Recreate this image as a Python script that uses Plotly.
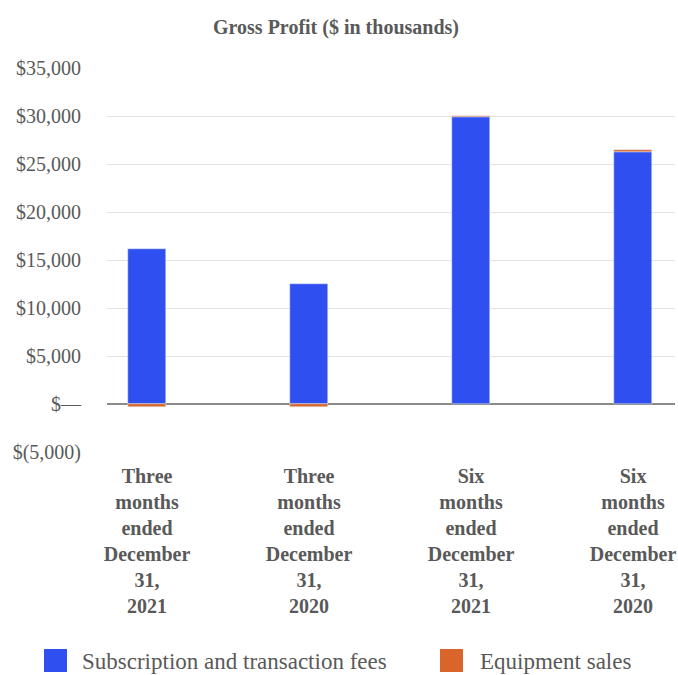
import plotly.graph_objects as go

categories = ["Three<br>months<br>ended<br>December<br>31,<br>2021",
              "Three<br>months<br>ended<br>December<br>31,<br>2020",
              "Six<br>months<br>ended<br>December<br>31,<br>2021",
              "Six<br>months<br>ended<br>December<br>31,<br>2020"]
series_names = ["Subscription and transaction fees", "Equipment sales"]
subscription = [16150, 12550, 29850, 26250]
equipment = [-300, -300, 200, 200]
tick_vals = [-5000, 0, 5000, 10000, 15000, 20000, 25000, 30000, 35000]
tick_text = ["$(5,000)", "$—", "$5,000", "$10,000", "$15,000", "$20,000", "$25,000", "$30,000", "$35,000"]

W, H = 678, 675
L, R, T, B = 107, 675, 68, 452  # plot area in pixels
colors = ["#2F4FF0", "#D9652B"]
txt = "#595959"

def px(X):
    return (X - L) / (R - L)

def py(Y):
    return (B - Y) / (B - T)

x = list(range(len(categories)))
fig = go.Figure()
fig.add_trace(go.Bar(x=x, y=subscription, name=series_names[0],
                     marker_color=colors[0], width=0.24, showlegend=False))
fig.add_trace(go.Bar(x=x, y=equipment, name=series_names[1],
                     marker_color=colors[1], width=0.24, showlegend=False))

# manual legend
shapes = []
annotations = []
for (sx, tx), name, c in zip([(44, 80), (440, 478)], series_names, colors):
    shapes.append(dict(type="rect", xref="paper", yref="paper",
                       x0=px(sx), x1=px(sx + 23), y0=py(672), y1=py(649),
                       fillcolor=c, line=dict(width=0)))
    annotations.append(dict(xref="paper", yref="paper", x=px(tx), y=py(661),
                            xanchor="left", yanchor="middle", showarrow=False,
                            text=name, font=dict(size=23, color=txt)))

fig.update_layout(
    barmode="relative",
    width=W, height=H,
    paper_bgcolor="white", plot_bgcolor="white",
    margin=dict(l=L, r=W - R, t=T, b=H - B),
    font=dict(family="Liberation Serif", size=20, color=txt),
    title=dict(text="<b>Gross Profit ($ in thousands)</b>", x=336 / W, xanchor="center",
               y=1 - 27 / H, yanchor="middle", font=dict(size=20, color=txt)),
    xaxis=dict(tickmode="array", tickvals=x, ticktext=["<b>%s</b>" % c for c in categories],
               range=[-0.247, 3.259], showgrid=False, showline=False, ticks="",
               ticklabelstandoff=10, tickfont=dict(size=20, color=txt)),
    yaxis=dict(range=[-5000, 35000], tickmode="array", tickvals=tick_vals, ticktext=tick_text,
               showgrid=True, gridcolor="#E3E3E3", gridwidth=1,
               zeroline=True, zerolinecolor="#8A8A8A", zerolinewidth=2,
               ticks="", ticklabelstandoff=25, tickfont=dict(size=20, color=txt)),
    shapes=shapes,
    annotations=annotations,
    showlegend=False,
    bargap=0,
)
fig.write_html("out.html")
